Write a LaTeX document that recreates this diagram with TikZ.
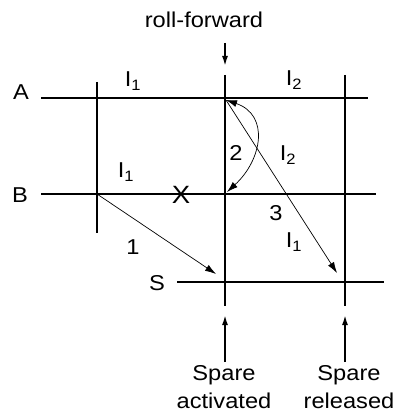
\documentclass[tikz,border=0pt]{standalone}
\usepackage{fontspec}
\setmainfont[FakeStretch=1.1]{Liberation Sans}
\usetikzlibrary{arrows,arrows.meta,positioning}

\begin{document}
\begin{tikzpicture}[
    x=1pt, y=-1pt,
    timeline/.style={line width=2.8pt},
    marker/.style={-{Latex[length=10pt,width=6pt]}, line width=1.7pt},
    msg/.style={-{Latex[length=11pt,width=7pt]}, line width=0.7pt},
    lbl/.style={font=\fontsize{21.5}{28}\selectfont, inner sep=0pt}
]
\useasboundingbox (0,0) rectangle (396,417);

% process lines
\coordinate (a0) at (41,98);   \coordinate (a1) at (368,98);
\coordinate (b0) at (41,194);  \coordinate (b1) at (376,194);
\coordinate (s0) at (177,282); \coordinate (s1) at (384,282);
\draw[timeline] (a0) -- (a1);
\draw[timeline] (b0) -- (b1);
\draw[timeline] (s0) -- (s1);

% checkpoint lines
\coordinate (c1t) at (97,82);  \coordinate (c1b) at (97,233);
\coordinate (c2t) at (225,75); \coordinate (c2b) at (225,306);
\coordinate (c3t) at (345,75); \coordinate (c3b) at (345,306);
\draw[timeline] (c1t) -- (c1b);
\draw[timeline] (c2t) -- (c2b);
\draw[timeline] (c3t) -- (c3b);

% junctions
\coordinate (ja) at (226,100);
\coordinate (jb) at (227,192);
\coordinate (jb0) at (97,194);

% process names
\node[lbl] (pa) at (21,92) {A};
\node[lbl] (pb) at (20,195) {B};
\node[lbl] (ps) at (157,283) {S};

% intervals
\node[lbl] (ia1) at (133,81) {I\textsubscript{1}};
\node[lbl] (ia2) at (294,80) {I\textsubscript{2}};
\node[lbl] (ib1) at (126,172) {I\textsubscript{1}};
\node[lbl] (im2) at (288,155) {I\textsubscript{2}};
\node[lbl] (im1) at (294,242) {I\textsubscript{1}};

% failure
\node[font=\fontsize{25}{28}\selectfont, inner sep=0pt] (fail) at (181,195) {X};

% messages
\node[lbl] (n1) at (133,247) {1};
\node[lbl] (n2) at (236,153) {2};
\node[lbl] (n3) at (276,213) {3};
\coordinate (m1) at (216,274);
\coordinate (m3) at (337,273);
\draw[msg] (jb0) -- (m1);
\draw[msg] (ja) -- (m3);
\draw[msg, {Latex[length=11pt,width=7pt]}-{Latex[length=11pt,width=7pt]}] (ja) .. controls (270,115) and (262,160) .. (jb);

% event markers
\node[lbl] (roll) at (204,20) {roll-forward};
\coordinate (rf0) at (225,43); \coordinate (rf1) at (225,66);
\draw[marker] (rf0) -- (rf1);

\node[lbl, align=center] (act) at (224,387) {Spare\\activated};
\node[lbl, align=center] (rel) at (349,387) {Spare\\released};
\coordinate (sa0) at (225,362); \coordinate (sa1) at (225,315);
\coordinate (sr0) at (345,362); \coordinate (sr1) at (345,315);
\draw[marker] (sa0) -- (sa1);
\draw[marker] (sr0) -- (sr1);

\end{tikzpicture}
\end{document}
